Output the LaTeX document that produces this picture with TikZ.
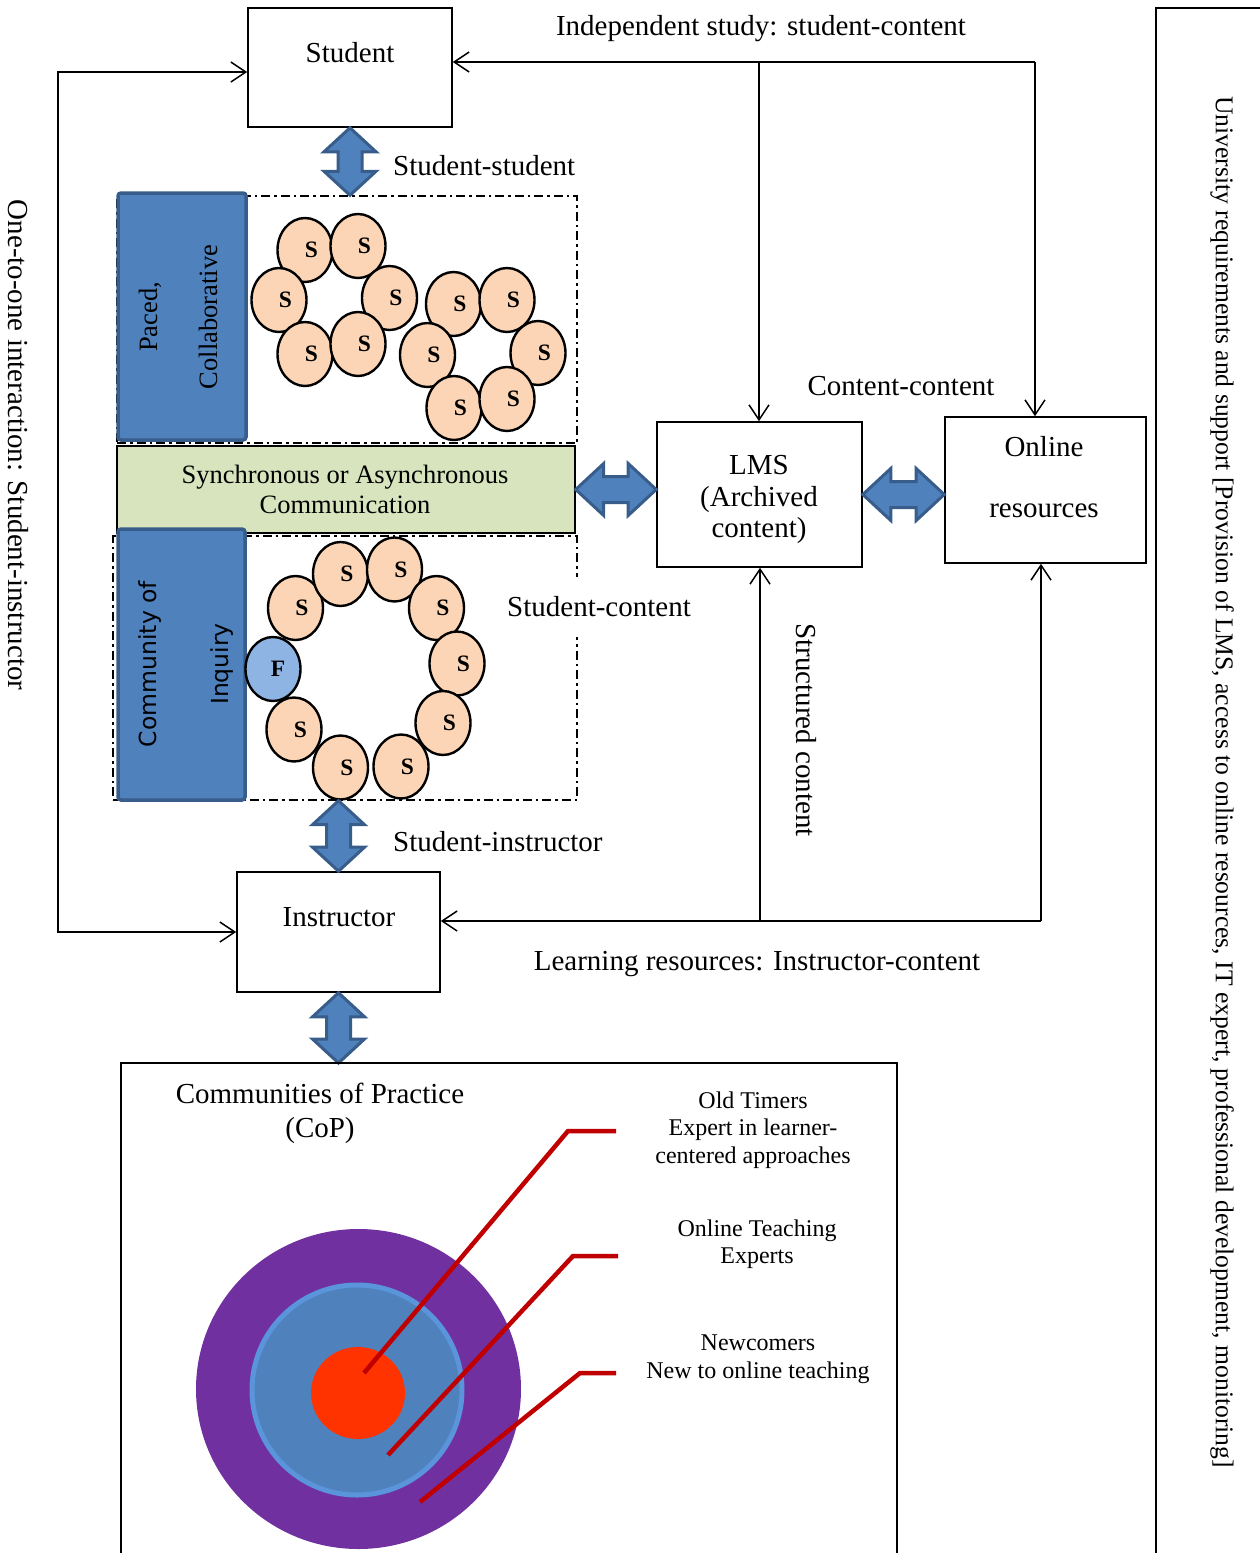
\documentclass[tikz,border=0pt]{standalone}
\usepackage{fontspec}
\setmainfont{Liberation Serif}
\newfontfamily\coifont{DejaVu Sans}
\usetikzlibrary{arrows.meta,calc,shapes.geometric}
\definecolor{bfill}{HTML}{4F81BD}
\definecolor{bdraw}{HTML}{385D8A}
\definecolor{peach}{HTML}{FBD5B5}
\definecolor{fblue}{HTML}{8EB4E3}
\definecolor{lgreen}{HTML}{D7E4BD}
\definecolor{cpurple}{HTML}{7030A0}
\definecolor{ringblue}{HTML}{5A94DA}
\definecolor{cred}{HTML}{FF3300}
\definecolor{dred}{HTML}{C00000}
\tikzset{
  box/.style={draw, line width=1.6pt, inner sep=0pt},
  lbl/.style={font=\fontsize{29}{31.5}\selectfont, inner sep=0pt, align=center},
  conn/.style={line width=1.5pt},
  dotbox/.style={draw, line width=1.4pt, dash pattern=on 9pt off 4pt on 2.5pt off 4pt, inner sep=0pt},
  bluebox/.style={fill=bfill, draw=bdraw, line width=3.5pt, rounded corners=3pt, inner sep=0pt},
  sc/.style={ellipse, draw, line width=2.4pt, fill=peach, minimum width=55pt, minimum height=64pt, inner sep=0pt,
     font=\fontsize{23.5}{24}\selectfont\bfseries},
  blockstyle/.style={fill=bfill, draw=bdraw, line width=3pt, line join=miter},
  blockV/.style={blockstyle, to path={
     -- ($(\tikztostart)+(26pt,-24pt)$) -- ($(\tikztostart)+(12pt,-24pt)$)
     -- ($(\tikztotarget)+(12pt,24pt)$) -- ($(\tikztotarget)+(26pt,24pt)$)
     -- (\tikztotarget)
     -- ($(\tikztotarget)+(-26pt,24pt)$) -- ($(\tikztotarget)+(-12pt,24pt)$)
     -- ($(\tikztostart)+(-12pt,-24pt)$) -- ($(\tikztostart)+(-26pt,-24pt)$) -- cycle}},
  blockH/.style={blockstyle, to path={
     -- ($(\tikztostart)+(28pt,26pt)$) -- ($(\tikztostart)+(28pt,13pt)$)
     -- ($(\tikztotarget)+(-28pt,13pt)$) -- ($(\tikztotarget)+(-28pt,26pt)$)
     -- (\tikztotarget)
     -- ($(\tikztotarget)+(-28pt,-26pt)$) -- ($(\tikztotarget)+(-28pt,-13pt)$)
     -- ($(\tikztostart)+(28pt,-13pt)$) -- ($(\tikztostart)+(28pt,-26pt)$) -- cycle}},
  redline/.style={draw=dred, line width=4.5pt},
  smalllbl/.style={font=\fontsize{24}{27.5}\selectfont, inner sep=0pt, align=center}
}
\begin{document}
\begin{tikzpicture}[x=1pt,y=-1pt,>={Straight Barb[length=15pt,width=20pt]}]
\useasboundingbox (0,0) rectangle (1260,1553);

% main boxes
\node[box, minimum width=204pt, minimum height=119pt] (student) at (350,67.5) {};
\node[lbl] (studenttxt) at (350,53) {Student};
\node[box, minimum width=203pt, minimum height=120pt] (instr) at (338.5,932) {};
\node[lbl] (instrtxt) at (339,917) {Instructor};
\node[box, minimum width=205pt, minimum height=145pt] (lms) at (759.5,494.5) {};
\node[lbl] (lmstxt) at (759,499.5) {LMS\\(Archived\\content)};
\node[box, minimum width=201pt, minimum height=146pt] (online) at (1045.5,490) {};
\node[lbl, font=\fontsize{29}{61}\selectfont] (onlinetxt) at (1044,477) {Online\\resources};
\node[box, minimum width=144pt, minimum height=1592pt] (uni) at (1228,804) {};
\node[lbl, rotate=-90, font=\fontsize{25.6}{27}\selectfont] (unitxt) at (1222,782)
  {University requirements and support [Provision of LMS, access to online resources, IT expert, professional development, monitoring]};

% collaborative areas
\node[dotbox, minimum width=460pt, minimum height=247pt] (dtop) at (347,319.5) {};
\node[dotbox, minimum width=464pt, minimum height=264pt] (dbot) at (345,668) {};
\node[box, fill=lgreen, line width=1.4pt, minimum width=458pt, minimum height=87pt] (comm) at (346,489.5) {};
\node[lbl, font=\fontsize{26.5}{30}\selectfont] (commtxt) at (345,489) {Synchronous or Asynchronous\\Communication};
\node[bluebox, minimum width=128pt, minimum height=247pt] (paced) at (182,316.5) {};
\node[lbl, rotate=90, font=\fontsize{26.5}{60}\selectfont] (pacedtxt) at (178,317) {Paced,\\Collaborative};
\node[bluebox, minimum width=127pt, minimum height=271pt] (coi) at (181.5,664.5) {};
\node[lbl, rotate=90, font=\coifont\fontsize{23.5}{72}\selectfont] (coitxt) at (186,664) {Community of\\Inquiry};

% student circles
\foreach \p [count=\i] in {(305,250),(358,246),(279,300),(389.5,298),(305,354),(358,344),
  (453.5,304),(507,300),(427.5,355),(538,353),(454,408),(507,399),
  (295.5,608),(340.5,574),(394.5,569.5),(436.5,608),(457,663.5),(443,723),(401,766.5),(340.5,767.5),(294,729.5)}
  \node[sc] (s\i) at \p {\hspace*{13pt}S};
\node[sc, fill=fblue] (f1) at (273,669) {\hspace*{10pt}F};

% block arrows
\coordinate (ssA) at (student.south);
\coordinate (ssB) at (student.south |- dtop.north);
\draw[blockV] (ssA) to (ssB);
\coordinate (siA) at (instr.north |- dbot.south);
\coordinate (siB) at (instr.north);
\draw[blockV] (siA) to (siB);
\coordinate (icA) at (instr.south);
\coordinate (icB) at (instr.south |- 0,1063);
\draw[blockV] (icA) to (icB);
\coordinate (clA) at (comm.east);
\coordinate (clB) at (comm.east -| lms.west);
\draw[blockH] (clA) to (clB);
\coordinate (loA) at (lms.east);
\coordinate (loB) at (lms.east -| online.west);
\draw[blockH] (loA) to (loB);

% line connectors
\draw[conn,<->] ([yshift=-4.5pt]student.west) -- ++(-189,0) |- (instr.west);
\coordinate (topR) at (1035,62);
\coordinate (topM) at (759,62);
\draw[conn,->] (topR) -- (topR -| student.east);
\draw[conn,->] (topR) -- (topR |- online.north);
\draw[conn,->] (topM) -- (topM |- lms.north);
\coordinate (botR) at (1041,921);
\coordinate (botM) at (760,921);
\draw[conn,->] (botR) -- (botR -| instr.east);
\draw[conn,->] (botR) -- (botR |- online.south);
\draw[conn,->] (botM) -- (botM |- lms.south);

% labels
\node[lbl] (l1) at (761,29) {Independent study: student-content};
\node[lbl, anchor=west] (l2) at (393,166) {Student-student};
\node[lbl] (l3) at (901,386) {Content-content};
\node[lbl, fill=white, inner xsep=3pt, inner ysep=20pt] (l4) at (599,607) {Student-content};
\node[lbl, rotate=-90] (l5) at (806,730) {Structured content};
\node[lbl, anchor=west] (l6) at (393,842) {Student-instructor};
\node[lbl] (l7) at (757,964) {Learning resources: Instructor-content};
\node[lbl, rotate=-90] (l8) at (18,445) {One-to-one interaction: Student-instructor};

% communities of practice
\node[box, line width=1.2pt, minimum width=776pt, minimum height=557pt] (cop) at (509,1341.5) {};
\node[lbl, font=\fontsize{29}{34}\selectfont] (coptxt) at (320,1113) {Communities of Practice\\(CoP)};
\node[ellipse, fill=cpurple, minimum width=325pt, minimum height=320pt, inner sep=0pt] (ring3) at (358.5,1389) {};
\node[ellipse, fill=bfill, draw=ringblue, line width=5pt, minimum width=210pt, minimum height=210pt, inner sep=0pt] (ring2) at (357,1390) {};
\node[ellipse, fill=cred, minimum width=94pt, minimum height=92pt, inner sep=0pt] (ring1) at (358,1393) {};
\node[smalllbl] (t1) at (753,1130) {Old Timers\\Expert in learner-\\centered approaches};
\node[smalllbl] (t2) at (757,1244) {Online Teaching\\Experts};
\node[smalllbl] (t3) at (758,1359) {Newcomers\\New to online teaching};
\coordinate (r1) at (364,1373);
\coordinate (r2) at (388,1455);
\coordinate (r3) at (420,1502);
\draw[redline] (r1) -- (568,1131) -- (616,1131);
\draw[redline] (r2) -- (573,1256) -- (618,1256);
\draw[redline] (r3) -- (580,1373) -- (616,1373);
\end{tikzpicture}
\end{document}
